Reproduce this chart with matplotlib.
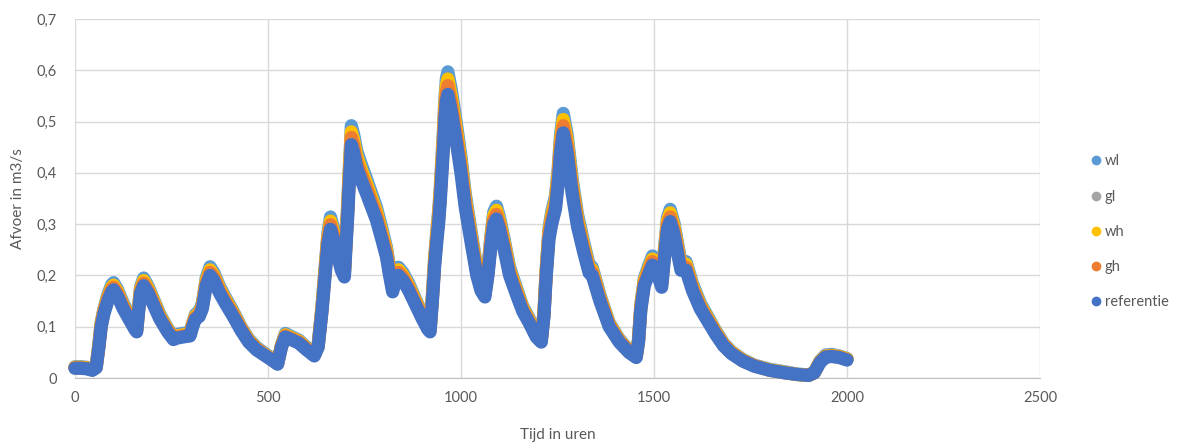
import matplotlib.pyplot as plt
from matplotlib.lines import Line2D

OUT_PNG = "out.png"

# hours (x) shared by all series
HOURS = [0, 15, 30, 45, 55, 62, 68, 75, 85, 95, 100, 110, 125, 140, 155, 160, 165, 170, 178, 190,
         205, 220, 240, 255, 265, 280, 298, 305, 312, 322, 330, 340, 350, 360, 375, 390, 410, 430, 450, 470,
         490, 510, 525, 535, 545, 560, 580, 600, 620, 630, 640, 648, 655, 662, 670, 680, 690, 698, 701, 704,
         707, 710, 713, 716, 722, 730, 742, 755, 770, 781, 795, 807, 815, 823, 830, 838, 850, 865, 884, 900,
         914, 920, 926, 932, 938, 942, 946, 950, 954, 958, 962, 966, 975, 988, 1000, 1011, 1025, 1041, 1052, 1062,
         1070, 1078, 1085, 1092, 1100, 1112, 1126, 1145, 1160, 1177, 1195, 1208, 1215, 1221, 1228, 1235, 1245, 1252, 1258, 1265,
         1275, 1288, 1302, 1318, 1332, 1340, 1360, 1384, 1410, 1435, 1454, 1460, 1466, 1475, 1485, 1496, 1510, 1520, 1528, 1535,
         1542, 1552, 1562, 1570, 1583, 1600, 1620, 1640, 1660, 1680, 1700, 1730, 1760, 1800, 1840, 1870, 1900, 1915, 1930, 1945,
         1960, 1980, 2000]

WL = [0.022, 0.022, 0.021, 0.018, 0.023, 0.066, 0.109, 0.135, 0.162, 0.182, 0.186, 0.173, 0.146, 0.124, 0.103, 0.098, 0.141, 0.178, 0.195, 0.178,
      0.151, 0.124, 0.097, 0.081, 0.085, 0.087, 0.089, 0.108, 0.124, 0.13, 0.146, 0.195, 0.217, 0.205, 0.178, 0.157, 0.13, 0.1, 0.076, 0.06,
      0.049, 0.038, 0.03, 0.065, 0.087, 0.081, 0.074, 0.06, 0.047, 0.065, 0.141, 0.216, 0.281, 0.314, 0.292, 0.259, 0.227, 0.213, 0.26, 0.303,
      0.346, 0.4, 0.443, 0.492, 0.475, 0.443, 0.416, 0.389, 0.357, 0.333, 0.292, 0.255, 0.216, 0.182, 0.205, 0.216, 0.205, 0.184, 0.151, 0.124,
      0.103, 0.097, 0.162, 0.238, 0.292, 0.324, 0.367, 0.421, 0.475, 0.54, 0.583, 0.597, 0.562, 0.497, 0.432, 0.36, 0.292, 0.216, 0.184, 0.171,
      0.216, 0.281, 0.324, 0.335, 0.313, 0.27, 0.216, 0.173, 0.14, 0.116, 0.086, 0.076, 0.13, 0.216, 0.292, 0.324, 0.356, 0.41, 0.475, 0.516,
      0.475, 0.389, 0.319, 0.265, 0.221, 0.216, 0.162, 0.108, 0.076, 0.054, 0.043, 0.076, 0.144, 0.194, 0.216, 0.238, 0.216, 0.191, 0.259, 0.313,
      0.329, 0.302, 0.259, 0.227, 0.227, 0.184, 0.146, 0.119, 0.092, 0.068, 0.052, 0.036, 0.025, 0.017, 0.012, 0.008, 0.006, 0.011, 0.033, 0.045,
      0.046, 0.043, 0.038]

GL = [0.02, 0.02, 0.019, 0.016, 0.021, 0.063, 0.105, 0.131, 0.157, 0.176, 0.18, 0.167, 0.141, 0.12, 0.099, 0.094, 0.136, 0.172, 0.188, 0.172,
      0.146, 0.12, 0.094, 0.078, 0.082, 0.084, 0.086, 0.105, 0.12, 0.125, 0.141, 0.188, 0.209, 0.199, 0.172, 0.152, 0.125, 0.097, 0.073, 0.057,
      0.047, 0.037, 0.028, 0.063, 0.084, 0.078, 0.071, 0.057, 0.045, 0.063, 0.136, 0.209, 0.272, 0.303, 0.282, 0.251, 0.219, 0.206, 0.251, 0.293,
      0.334, 0.387, 0.428, 0.475, 0.46, 0.428, 0.402, 0.376, 0.345, 0.322, 0.282, 0.247, 0.209, 0.176, 0.199, 0.209, 0.199, 0.178, 0.146, 0.12,
      0.099, 0.094, 0.157, 0.23, 0.282, 0.314, 0.355, 0.408, 0.46, 0.523, 0.564, 0.578, 0.543, 0.481, 0.418, 0.348, 0.282, 0.209, 0.178, 0.165,
      0.209, 0.272, 0.314, 0.324, 0.303, 0.261, 0.209, 0.167, 0.136, 0.112, 0.084, 0.073, 0.125, 0.209, 0.282, 0.314, 0.345, 0.397, 0.46, 0.5,
      0.46, 0.376, 0.308, 0.256, 0.214, 0.209, 0.157, 0.105, 0.073, 0.052, 0.042, 0.073, 0.139, 0.188, 0.209, 0.23, 0.209, 0.185, 0.251, 0.303,
      0.319, 0.293, 0.251, 0.219, 0.219, 0.178, 0.141, 0.115, 0.089, 0.066, 0.05, 0.034, 0.024, 0.016, 0.01, 0.007, 0.005, 0.01, 0.031, 0.043,
      0.044, 0.042, 0.037]

WH = [0.021, 0.021, 0.02, 0.017, 0.022, 0.064, 0.106, 0.132, 0.158, 0.177, 0.181, 0.169, 0.142, 0.121, 0.1, 0.095, 0.137, 0.174, 0.19, 0.174,
      0.148, 0.121, 0.095, 0.079, 0.082, 0.084, 0.087, 0.106, 0.121, 0.127, 0.142, 0.19, 0.211, 0.2, 0.174, 0.153, 0.127, 0.098, 0.074, 0.058,
      0.047, 0.037, 0.029, 0.063, 0.084, 0.079, 0.072, 0.058, 0.045, 0.063, 0.137, 0.211, 0.274, 0.306, 0.285, 0.253, 0.222, 0.208, 0.253, 0.295,
      0.338, 0.39, 0.433, 0.48, 0.464, 0.433, 0.406, 0.38, 0.348, 0.325, 0.285, 0.249, 0.211, 0.177, 0.2, 0.211, 0.2, 0.179, 0.148, 0.121,
      0.1, 0.095, 0.158, 0.232, 0.285, 0.317, 0.359, 0.411, 0.464, 0.528, 0.57, 0.583, 0.549, 0.485, 0.422, 0.351, 0.285, 0.211, 0.179, 0.167,
      0.211, 0.274, 0.317, 0.327, 0.306, 0.264, 0.211, 0.169, 0.137, 0.113, 0.084, 0.074, 0.127, 0.211, 0.285, 0.317, 0.348, 0.401, 0.464, 0.504,
      0.464, 0.38, 0.311, 0.258, 0.216, 0.211, 0.158, 0.106, 0.074, 0.053, 0.042, 0.074, 0.14, 0.19, 0.211, 0.232, 0.211, 0.187, 0.253, 0.306,
      0.322, 0.295, 0.253, 0.222, 0.222, 0.179, 0.142, 0.116, 0.09, 0.066, 0.051, 0.035, 0.024, 0.016, 0.011, 0.007, 0.005, 0.011, 0.032, 0.043,
      0.044, 0.042, 0.037]

GH = [0.02, 0.02, 0.019, 0.016, 0.021, 0.062, 0.103, 0.129, 0.155, 0.173, 0.177, 0.165, 0.139, 0.118, 0.098, 0.093, 0.134, 0.17, 0.185, 0.17,
      0.144, 0.118, 0.093, 0.077, 0.08, 0.082, 0.084, 0.103, 0.118, 0.124, 0.139, 0.185, 0.206, 0.196, 0.17, 0.149, 0.124, 0.096, 0.072, 0.057,
      0.046, 0.036, 0.028, 0.062, 0.082, 0.077, 0.07, 0.057, 0.044, 0.062, 0.134, 0.206, 0.268, 0.299, 0.278, 0.247, 0.216, 0.203, 0.247, 0.288,
      0.33, 0.381, 0.422, 0.469, 0.453, 0.422, 0.397, 0.371, 0.34, 0.317, 0.278, 0.243, 0.206, 0.173, 0.196, 0.206, 0.196, 0.175, 0.144, 0.118,
      0.098, 0.093, 0.155, 0.227, 0.278, 0.309, 0.35, 0.402, 0.453, 0.515, 0.556, 0.57, 0.536, 0.474, 0.412, 0.343, 0.278, 0.206, 0.175, 0.163,
      0.206, 0.268, 0.309, 0.319, 0.299, 0.258, 0.206, 0.165, 0.134, 0.11, 0.082, 0.072, 0.124, 0.206, 0.278, 0.309, 0.34, 0.391, 0.453, 0.492,
      0.453, 0.371, 0.304, 0.252, 0.211, 0.206, 0.155, 0.103, 0.072, 0.052, 0.041, 0.072, 0.137, 0.185, 0.206, 0.227, 0.206, 0.182, 0.247, 0.299,
      0.314, 0.288, 0.247, 0.216, 0.216, 0.175, 0.139, 0.113, 0.088, 0.065, 0.049, 0.034, 0.024, 0.015, 0.01, 0.007, 0.005, 0.01, 0.031, 0.042,
      0.043, 0.041, 0.036]

REF = [0.019, 0.019, 0.018, 0.015, 0.02, 0.06, 0.1, 0.125, 0.15, 0.168, 0.172, 0.16, 0.135, 0.115, 0.095, 0.09, 0.13, 0.165, 0.18, 0.165,
       0.14, 0.115, 0.09, 0.075, 0.078, 0.08, 0.082, 0.1, 0.115, 0.12, 0.135, 0.18, 0.2, 0.19, 0.165, 0.145, 0.12, 0.093, 0.07, 0.055,
       0.045, 0.035, 0.027, 0.06, 0.08, 0.075, 0.068, 0.055, 0.043, 0.06, 0.13, 0.2, 0.26, 0.29, 0.27, 0.24, 0.21, 0.197, 0.24, 0.28,
       0.32, 0.37, 0.41, 0.455, 0.44, 0.41, 0.385, 0.36, 0.33, 0.308, 0.27, 0.236, 0.2, 0.168, 0.19, 0.2, 0.19, 0.17, 0.14, 0.115,
       0.095, 0.09, 0.15, 0.22, 0.27, 0.3, 0.34, 0.39, 0.44, 0.5, 0.54, 0.553, 0.52, 0.46, 0.4, 0.333, 0.27, 0.2, 0.17, 0.158,
       0.2, 0.26, 0.3, 0.31, 0.29, 0.25, 0.2, 0.16, 0.13, 0.107, 0.08, 0.07, 0.12, 0.2, 0.27, 0.3, 0.33, 0.38, 0.44, 0.478,
       0.44, 0.36, 0.295, 0.245, 0.205, 0.2, 0.15, 0.1, 0.07, 0.05, 0.04, 0.07, 0.133, 0.18, 0.2, 0.22, 0.2, 0.177, 0.24, 0.29,
       0.305, 0.28, 0.24, 0.21, 0.21, 0.17, 0.135, 0.11, 0.085, 0.063, 0.048, 0.033, 0.023, 0.015, 0.01, 0.007, 0.005, 0.01, 0.03, 0.041,
       0.042, 0.04, 0.035]

SERIES = [("wl", WL, "#5B9BD5"), ("gl", GL, "#A5A5A5"), ("wh", WH, "#FFC000"),
          ("gh", GH, "#ED7D31"), ("referentie", REF, "#4472C4")]

X_TICKS = [0, 500, 1000, 1500, 2000, 2500]
Y_TICKS = [0, 0.1, 0.2, 0.3, 0.4, 0.5, 0.6, 0.7]
Y_LABELS = ["0", "0,1", "0,2", "0,3", "0,4", "0,5", "0,6", "0,7"]

plt.rcParams["font.family"] = ["Lato", "DejaVu Sans"]
TXT = "#595959"

fig = plt.figure(figsize=(11.88, 4.44), dpi=100)
ax = fig.add_axes([0.0631, 0.1486, 0.8123, 0.8086])

for name, vals, col in SERIES:
    assert len(vals) == len(HOURS), name
    # dense markers in the original merge into a thick band
    ax.plot(HOURS, vals, color=col, lw=9.5, solid_capstyle="round", solid_joinstyle="round",
            clip_on=False, zorder=3)

ax.set_xlim(0, 2500)
ax.set_ylim(0, 0.7)
ax.set_xticks(X_TICKS)
ax.set_xticklabels([str(t) for t in X_TICKS])
ax.set_yticks(Y_TICKS)
ax.set_yticklabels(Y_LABELS)
ax.tick_params(length=0, labelsize=10.5, colors=TXT)
ax.tick_params(axis="x", pad=9)
ax.tick_params(axis="y", pad=13)
ax.grid(True, color="#D9D9D9", lw=1)
ax.set_axisbelow(True)
for s in ["top", "right", "left"]:
    ax.spines[s].set_visible(False)
ax.spines["bottom"].set_color("#BFBFBF")

ax.set_xlabel("Tijd in uren", fontsize=11, color=TXT, labelpad=17)
ax.set_ylabel("Afvoer in m3/s", fontsize=11, color=TXT, labelpad=8)

handles = [Line2D([0], [0], marker="o", color="w", markerfacecolor=col, markeredgecolor=col,
                  markersize=6, label=name, linestyle="none") for name, _, col in SERIES]
fig.legend(handles=handles, loc="center left", bbox_to_anchor=(0.908, 0.478), frameon=False,
           fontsize=10.5, labelcolor=TXT, handlelength=0.6, handletextpad=0.3, labelspacing=1.45)

fig.savefig(OUT_PNG, dpi=100)
plt.close(fig)
